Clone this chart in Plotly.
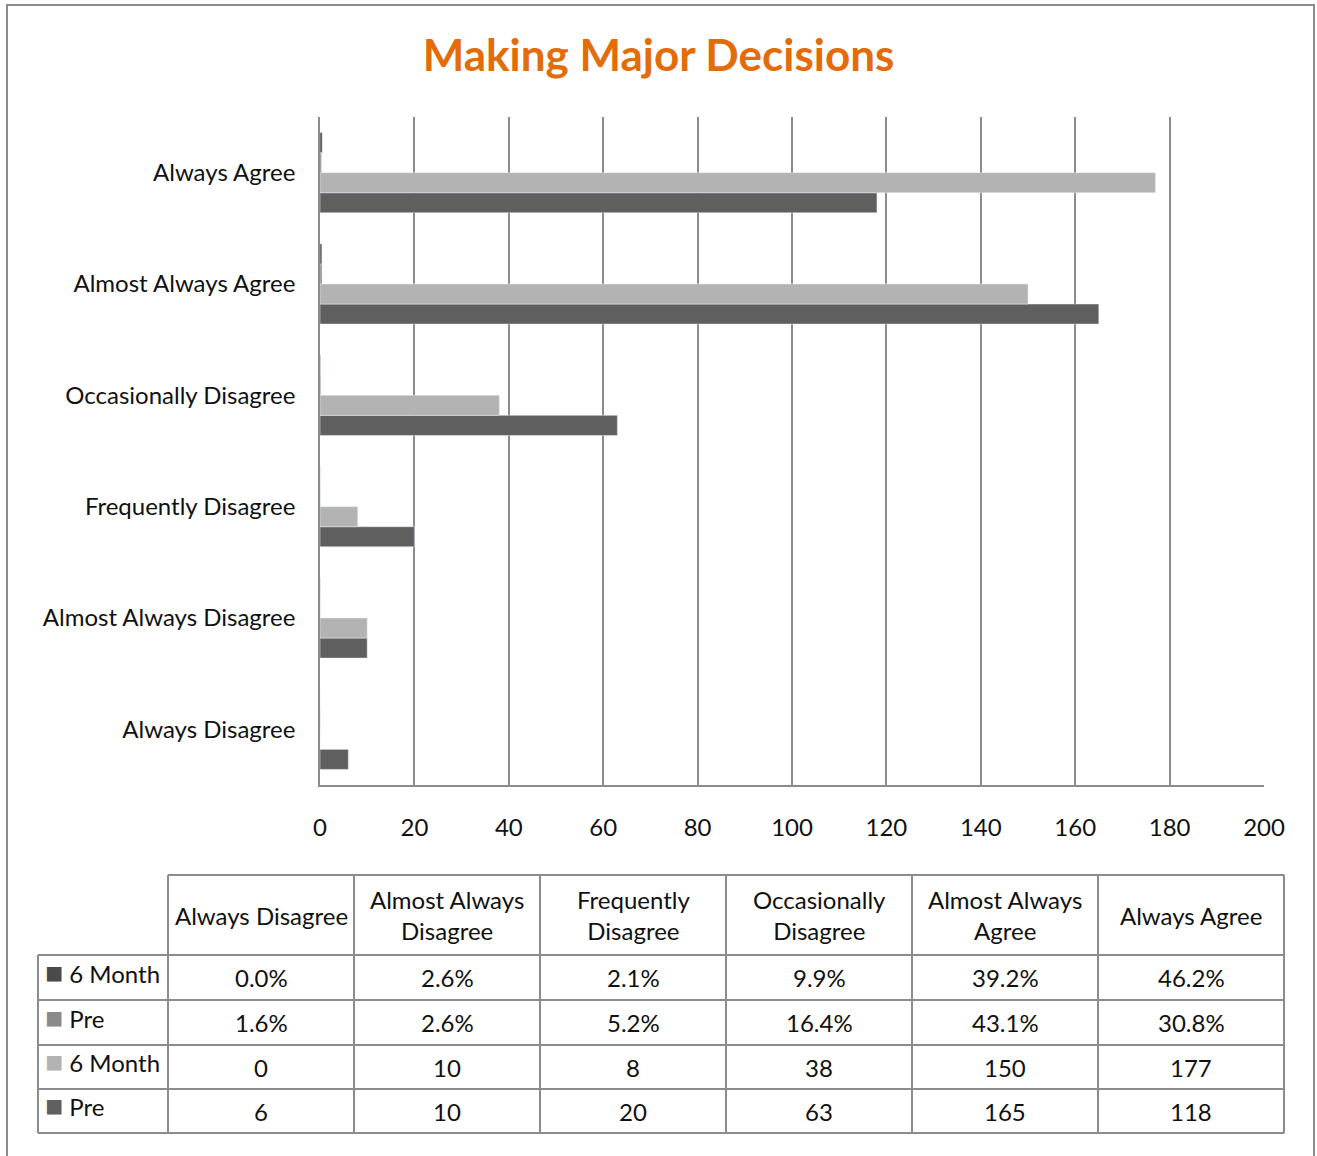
import plotly.graph_objects as go

categories = ["Always Disagree", "Almost Always Disagree", "Frequently Disagree",
              "Occasionally Disagree", "Almost Always Agree", "Always Agree"]
table_headers = ["Always Disagree", "Almost Always<br>Disagree", "Frequently<br>Disagree",
                 "Occasionally<br>Disagree", "Almost Always<br>Agree", "Always Agree"]
pre_count = [6, 10, 20, 63, 165, 118]
six_count = [0, 10, 8, 38, 150, 177]
pre_pct = [0.016, 0.026, 0.052, 0.164, 0.431, 0.308]
six_pct = [0.000, 0.026, 0.021, 0.099, 0.392, 0.462]
x_ticks = [0, 20, 40, 60, 80, 100, 120, 140, 160, 180, 200]

W, H = 1317, 1156
FONT = "Lato"
FS = 24
C_SIXPCT = "#4a4a4a"
C_PREPCT = "#8a8a8a"
C_SIXCNT = "#b3b3b3"
C_PRECNT = "#5f5f5f"
GRID = "#8c8c8c"
TXT = "#111111"

def px(x):
    return x / W

def py(y):
    return 1 - y / H

fig = go.Figure()
fig.add_trace(go.Bar(y=categories, x=pre_count, orientation="h", name="Pre", marker_color=C_PRECNT))
fig.add_trace(go.Bar(y=categories, x=six_count, orientation="h", name="6 Month", marker_color=C_SIXCNT))
fig.add_trace(go.Bar(y=categories, x=pre_pct, orientation="h", name="Pre %", marker_color=C_PREPCT))
fig.add_trace(go.Bar(y=categories, x=six_pct, orientation="h", name="6 Month %", marker_color=C_SIXPCT))

fig.update_layout(
    width=W, height=H, autosize=False,
    margin=dict(l=0, r=0, t=0, b=0, pad=0),
    paper_bgcolor="white", plot_bgcolor="white",
    barmode="group", bargap=0.28, bargroupgap=0,
    showlegend=False,
    font=dict(family=FONT, size=FS, color=TXT),
    title=dict(text="<b>Making Major Decisions</b>", x=0.5, xanchor="center",
               y=py(56), yanchor="middle",
               font=dict(family=FONT, size=44, color="#E36C09")),
    xaxis=dict(domain=[px(320), px(1264)], range=[0, 200], tickvals=x_ticks,
               showgrid=True, gridcolor=GRID, gridwidth=1.5,
               showline=True, linecolor=GRID, linewidth=1.5,
               zeroline=False, ticks="", ticklabelstandoff=20, automargin=False,
               tickfont=dict(size=FS, family=FONT, color=TXT)),
    yaxis=dict(domain=[py(785), py(117)], showgrid=False,
               showline=True, linecolor=GRID, linewidth=1.5,
               ticks="", ticklabelstandoff=18, automargin=False,
               tickfont=dict(size=FS, family=FONT, color=TXT)),
)

shapes = []
# outer border
shapes.append(dict(type="rect", xref="paper", yref="paper", x0=px(7), x1=px(1314),
                   y0=py(1170), y1=py(5), line=dict(color="#8c8c8c", width=2), layer="below"))

# table grid
col_x = [38, 168, 354, 540, 726, 912, 1098, 1284]
row_y = [875, 955, 1000, 1045, 1089, 1133]
lc = dict(color="#8c8c8c", width=2)
shapes.append(dict(type="line", xref="paper", yref="paper", x0=px(col_x[1]), x1=px(col_x[-1]),
                   y0=py(row_y[0]), y1=py(row_y[0]), line=lc))
for yy in row_y[1:]:
    shapes.append(dict(type="line", xref="paper", yref="paper", x0=px(col_x[0]), x1=px(col_x[-1]),
                       y0=py(yy), y1=py(yy), line=lc))
shapes.append(dict(type="line", xref="paper", yref="paper", x0=px(col_x[0]), x1=px(col_x[0]),
                   y0=py(row_y[1]), y1=py(row_y[-1]), line=lc))
for xx in col_x[1:]:
    shapes.append(dict(type="line", xref="paper", yref="paper", x0=px(xx), x1=px(xx),
                       y0=py(row_y[0]), y1=py(row_y[-1]), line=lc))

annotations = []
for i, h in enumerate(table_headers):
    cx = (col_x[i + 1] + col_x[i + 2]) / 2
    cy = (row_y[0] + row_y[1]) / 2
    annotations.append(dict(xref="paper", yref="paper", x=px(cx), y=py(cy), text=h,
                            showarrow=False, xanchor="center", yanchor="middle",
                            font=dict(size=FS, family=FONT, color=TXT)))

rows = [
    ("6 Month", C_SIXPCT, [f"{v*100:.1f}%" for v in six_pct]),
    ("Pre", C_PREPCT, [f"{v*100:.1f}%" for v in pre_pct]),
    ("6 Month", C_SIXCNT, [str(v) for v in six_count]),
    ("Pre", C_PRECNT, [str(v) for v in pre_count]),
]
for r, (label, color, vals) in enumerate(rows):
    cy = (row_y[r + 1] + row_y[r + 2]) / 2
    annotations.append(dict(xref="paper", yref="paper", x=px(col_x[0] + 5), y=py(cy - 7),
                            text=f"<span style='color:{color};font-size:30px'>■</span> {label}",
                            showarrow=False, xanchor="left", yanchor="middle",
                            font=dict(size=FS, family=FONT, color=TXT)))
    for c, v in enumerate(vals):
        cx = (col_x[c + 1] + col_x[c + 2]) / 2
        annotations.append(dict(xref="paper", yref="paper", x=px(cx), y=py(cy), text=v,
                                showarrow=False, xanchor="center", yanchor="middle",
                                font=dict(size=FS, family=FONT, color=TXT)))

fig.update_layout(shapes=shapes, annotations=annotations)

post = ("document.body.style.margin='0';document.body.style.padding='0';"
        "document.body.style.overflow='hidden';")
fig.write_html("out.html", config={"responsive": False, "displayModeBar": False}, post_script=post)
